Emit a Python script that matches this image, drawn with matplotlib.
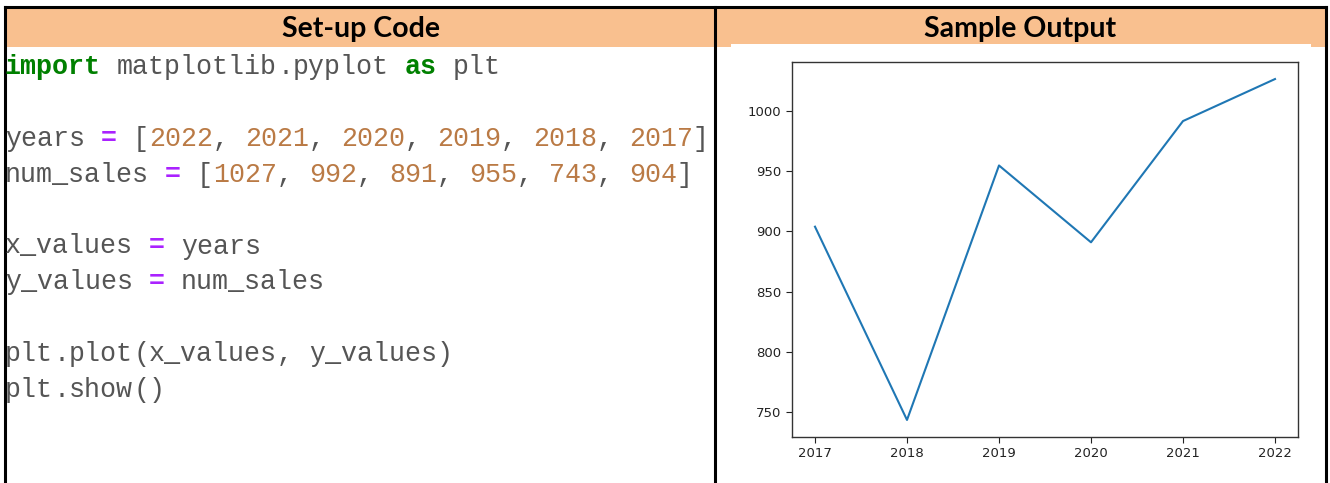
import re
import matplotlib.pyplot as plt
from matplotlib.patches import Rectangle

# data shown in the sample output
years = [2022, 2021, 2020, 2019, 2018, 2017]
num_sales = [1027, 992, 891, 955, 743, 904]

headers = ["Set-up Code", "Sample Output"]

code_lines = [
    "import matplotlib.pyplot as plt",
    "",
    "years = [2022, 2021, 2020, 2019, 2018, 2017]",
    "num_sales = [1027, 992, 891, 955, 743, 904]",
    "",
    "x_values = years",
    "y_values = num_sales",
    "",
    "plt.plot(x_values, y_values)",
    "plt.show()",
]

W, H = 1330, 483
DPI = 100
fig = plt.figure(figsize=(W / DPI, H / DPI), dpi=DPI)

# background layer in pixel coordinates
bg = fig.add_axes([0, 0, 1, 1])
bg.set_xlim(0, W)
bg.set_ylim(H, 0)
bg.axis('off')

header_col = '#F9C08F'
bg.add_patch(Rectangle((6, 7), 1320, 40, color=header_col, lw=0))
# white area of the pasted screenshot
bg.add_patch(Rectangle((731, 43.5), 580, H, color='white', lw=0))

# table borders
bw = 2.2
bg.plot([5, 1326], [7, 7], color='black', lw=bw, solid_capstyle='projecting')
for xb in [5, 715, 1326]:
    bg.plot([xb, xb], [7, H + 5], color='black', lw=bw)

bg.text(361, 37, headers[0], ha='center', va='baseline', fontsize=20.5,
        fontweight='bold', family='Lato', color='black')
bg.text(1020, 37, headers[1], ha='center', va='baseline', fontsize=20.5,
        fontweight='bold', family='Lato', color='black')

# code text, coloured like the notebook highlighter
code_font = 19.2
char_w = 0.6 * code_font * DPI / 72
x0, y0, line_h = 5, 74, 35.9
gray = '#555555'
green = '#008000'
purple = '#AA22FF'
orange = '#BA7A45'

for i, line in enumerate(code_lines):
    y = y0 + i * line_h
    for m in re.finditer(r"[A-Za-z_][A-Za-z_0-9]*|\d+|=|.", line):
        tok = m.group(0)
        if tok.isspace():
            continue
        col, weight = gray, 'normal'
        if tok in ('import', 'as'):
            col, weight = green, 'bold'
        elif tok == '=':
            col, weight = purple, 'bold'
        elif tok.isdigit():
            col = orange
        bg.text(x0 + m.start() * char_w, y, tok, ha='left', va='baseline',
                fontsize=code_font, family='Liberation Mono',
                fontweight=weight, color=col)

# sample output chart
l, r, t, b = 792, 1298, 62, 437
ax = fig.add_axes([l / W, 1 - b / H, (r - l) / W, (b - t) / H])
ax.plot(years, num_sales, color='#1f77b4', lw=1.5)
ax.set_yticks([750, 800, 850, 900, 950, 1000])
ax.tick_params(labelsize=9.5, colors='#222222', length=4)
for sp in ax.spines.values():
    sp.set_color('#333333')
    sp.set_linewidth(1.0)

fig.savefig('out.png', dpi=DPI)
